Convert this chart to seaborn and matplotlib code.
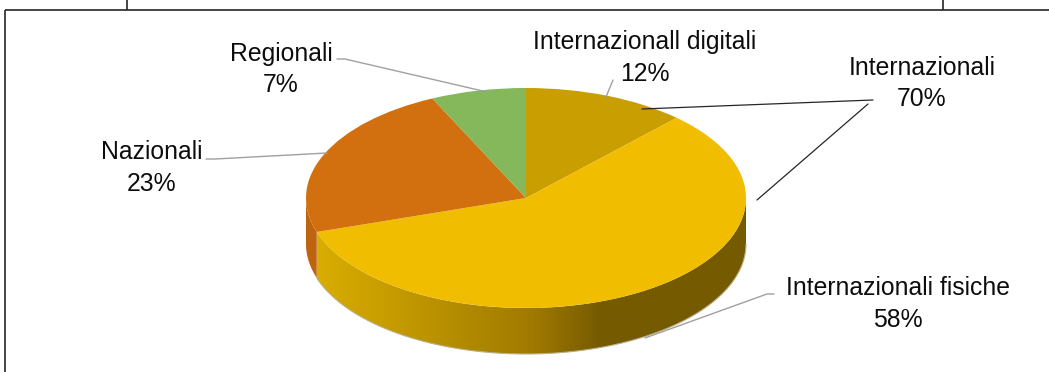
import numpy as np
import matplotlib
matplotlib.use("Agg")
import matplotlib.pyplot as plt
from matplotlib.colors import LinearSegmentedColormap
from matplotlib.patches import Polygon
import seaborn as sns

# ---- data ----
slice_names = ["Internazionall digitali", "Internazionali fisiche", "Nazionali", "Regionali"]
slice_values = [12, 58, 23, 7]
group_name = "Internazionali"
group_members = [0, 1]
slice_colors = ["#C99E00", "#F0BD00", "#D2700F", "#84B85A"]

sns.set_theme(style="white")
plt.rcParams["font.family"] = ["Liberation Sans", "DejaVu Sans"]

W, H = 1049, 372
CX, CY, RX, RY, DEPTH = 526, 198, 220, 110, 46

fig = plt.figure(figsize=(W / 100, H / 100), dpi=100, facecolor="white")
ax = fig.add_axes([0, 0, 1, 1])
ax.pie(slice_values, colors=slice_colors, startangle=90, counterclock=False,
       radius=1, wedgeprops=dict(linewidth=0))
ax.set_aspect("auto")
xlim = (-CX / RX, (W - CX) / RX)
ylim = ((CY - H) / RY, CY / RY)
d = DEPTH / RY


def side_poly(a0, a1):
    t = np.radians(np.linspace(a0, a1, 300))
    x, y = np.sin(t), np.cos(t)
    return np.r_[x, x[::-1]], np.r_[y, y[::-1] - d]


fractions = np.cumsum(slice_values) / np.sum(slice_values) * 360
# side of the big slice: gradient from the left, clipped to its visible wall
sx, sy = side_poly(90, fractions[1])
cmap = LinearSegmentedColormap.from_list(
    "wall", [(0.0, "#D9AD00"), (0.5, "#A07A00"), (0.66, "#755A00"), (1.0, "#755A00")])
x0 = np.sin(np.radians(fractions[1]))
im = ax.imshow(np.linspace(0, 1, 512)[None, :], cmap=cmap, aspect="auto", zorder=0,
               extent=(x0, 1, -1.6, 0.2), interpolation="bilinear")
patch = Polygon(np.c_[sx, sy], closed=True, transform=ax.transData, fc="none", ec="none")
ax.add_patch(patch)
im.set_clip_path(patch)
# soft outer edge of the wall
t = np.radians(np.linspace(90, fractions[1], 300))
ax.plot(np.sin(t), np.cos(t) - d, color="#B9AE86", lw=0.8, zorder=0.5)
# side of the next slice, seen at far left
ox, oy = side_poly(fractions[1], 270)
ax.fill(ox, oy, color="#BF640E", lw=0, zorder=0.4)
ax.set_xlim(xlim)
ax.set_ylim(ylim)
ax.axis("off")

# overlay in pixel coordinates for frame, labels and leader lines
ov = fig.add_axes([0, 0, 1, 1], facecolor="none")
ov.set_xlim(0, W)
ov.set_ylim(H, 0)
ov.axis("off")

frame = "#262626"
for xs, ys in [((5, W), (10, 10)), ((5, 5), (10, H)), ((127, 127), (0, 10)), ((943, 943), (0, 10))]:
    ov.plot(xs, ys, color=frame, lw=1.2, solid_capstyle="butt")

gray = "#A0A0A0"
for xs, ys in [((337, 345, 487), (59, 59, 92)),
               ((206, 215, 327), (159, 159, 153)),
               ((613, 606), (80, 97)),
               ((774, 767, 645), (294, 294, 338))]:
    ov.plot(xs, ys, color=gray, lw=1.0)
for xs, ys in [((642, 873), (109, 100)), ((868, 757), (104, 200))]:
    ov.plot(xs, ys, color="#262626", lw=0.9)

group_value = sum(slice_values[i] for i in group_members)
label_spots = {slice_names[0]: (645, 58), slice_names[1]: (897.5, 304),
               slice_names[2]: (152, 168), slice_names[3]: (281, 69.5)}
for name, value in zip(slice_names, slice_values):
    px, py = label_spots[name]
    ov.text(px, py, f"{name}\n{value}%", ha="center", va="center", fontsize=17.8,
            color="#0D0D0D", linespacing=1.38)
ov.text(922, 83.5, f"{group_name}\n{group_value}%", ha="center", va="center", fontsize=17.8,
        color="#0D0D0D", linespacing=1.38)

fig.savefig("out.png", dpi=100, facecolor="white")
